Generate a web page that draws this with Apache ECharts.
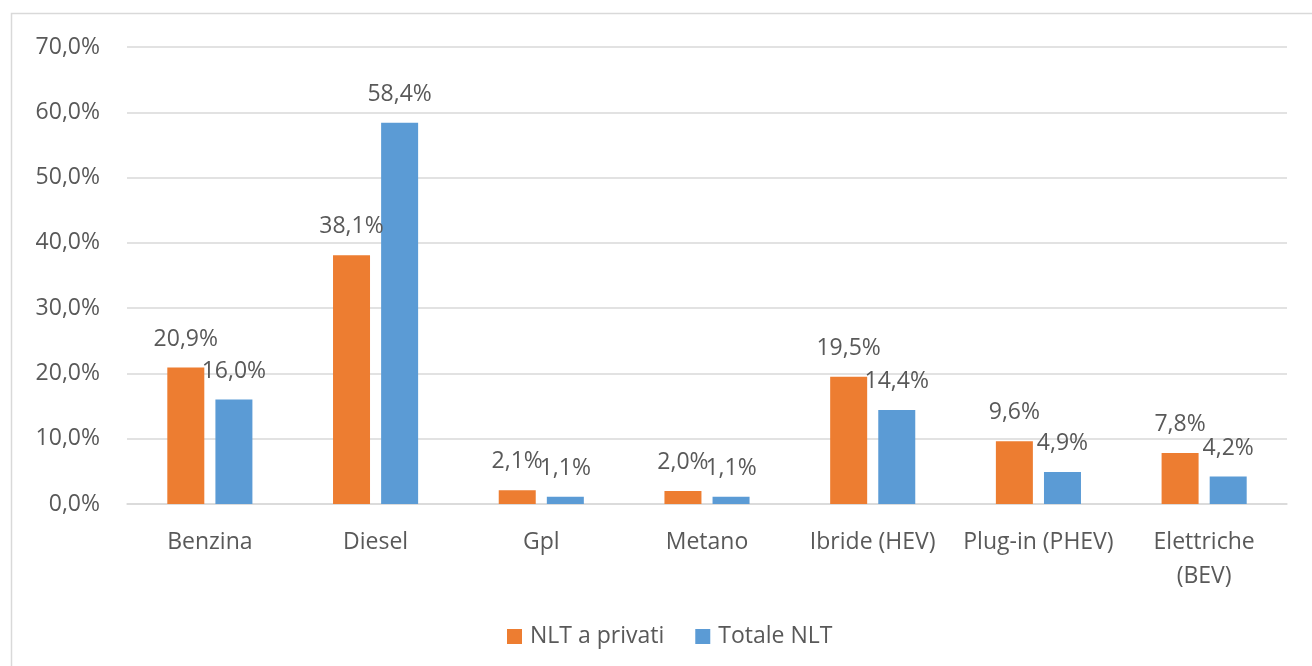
<!DOCTYPE html>
<html>
<head>
<meta charset="utf-8">
<script src="https://cdn.jsdelivr.net/npm/echarts@6/dist/echarts.min.js"></script>
<style>
  html, body { margin: 0; padding: 0; background: #fff; }
  #chart { width: 1312px; height: 666px; }
</style>
</head>
<body>
<div id="chart"></div>
<script>
// categorie e valori
const categories = ['Benzina', 'Diesel', 'Gpl', 'Metano', 'Ibride (HEV)', 'Plug-in (PHEV)', 'Elettriche\n(BEV)'];
const nltPrivati = [20.9, 38.1, 2.1, 2.0, 19.5, 9.6, 7.8];
const totaleNlt = [16.0, 58.4, 1.1, 1.1, 14.4, 4.9, 4.2];

const fmt = (v) => v.toFixed(1).replace('.', ',') + '%';
const font = '"Open Sans", sans-serif';
const textColor = '#595959';
const fontSize = 23;

const chart = echarts.init(document.getElementById('chart'));

const barLabel = {
  show: true,
  position: 'top',
  distance: 17,
  color: textColor,
  fontFamily: font,
  fontSize: fontSize,
  formatter: (p) => fmt(p.value),
};

const option = {
  animation: false,
  graphic: [
    {
      type: 'rect',
      shape: { x: 11.5, y: 13.5, width: 1320, height: 700 },
      style: { fill: 'none', stroke: '#d9d9d9', lineWidth: 1.5 },
    },
  ],
  grid: {
    left: 127,
    right: 25,
    top: 47,
    bottom: 162,
  },
  legend: {
    bottom: 13,
    left: 502,
    itemWidth: 15,
    itemHeight: 15,
    itemGap: 31,
    icon: 'rect',
    textStyle: { color: textColor, fontFamily: font, fontSize: fontSize, padding: [0, 0, 0, 3] },
    data: ['NLT a privati', 'Totale NLT'],
  },
  xAxis: {
    type: 'category',
    data: categories,
    axisLine: { show: true, lineStyle: { color: '#d9d9d9', width: 1.5 } },
    axisTick: { show: false },
    axisLabel: {
      color: textColor,
      fontFamily: font,
      fontSize: fontSize,
      margin: 21,
      lineHeight: 34,
      interval: 0,
    },
  },
  yAxis: {
    type: 'value',
    min: 0,
    max: 70,
    interval: 10,
    axisLine: { show: false },
    axisTick: { show: false },
    splitLine: { lineStyle: { color: '#d9d9d9', width: 1.5 } },
    axisLabel: {
      color: textColor,
      fontFamily: font,
      fontSize: fontSize,
      margin: 27,
      formatter: (v) => fmt(v),
    },
  },
  series: [
    {
      name: 'NLT a privati',
      type: 'bar',
      data: nltPrivati,
      barWidth: 37,
      barGap: '30%',
      itemStyle: { color: '#ED7D31' },
      label: barLabel,
    },
    {
      name: 'Totale NLT',
      type: 'bar',
      data: totaleNlt,
      barWidth: 37,
      itemStyle: { color: '#5B9BD5' },
      label: barLabel,
    },
  ],
};

chart.setOption(option);
</script>
</body>
</html>
